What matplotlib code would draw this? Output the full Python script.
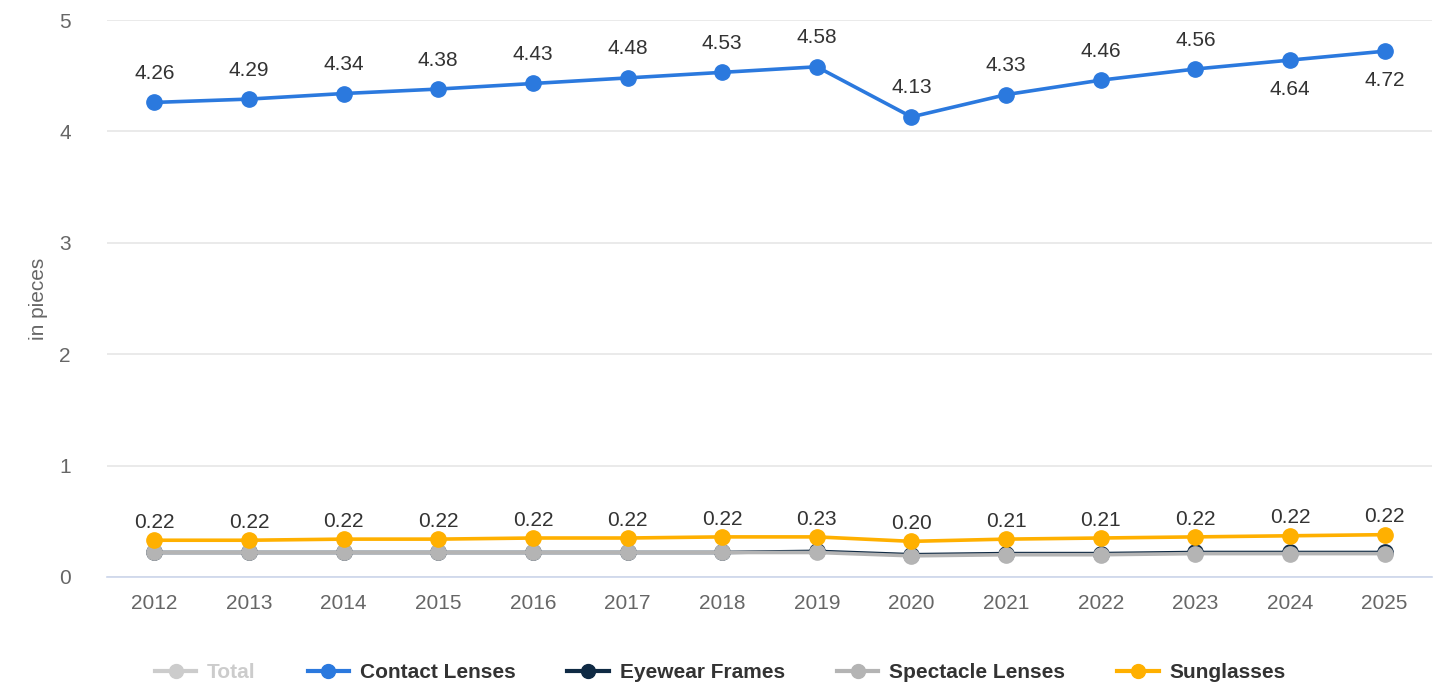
import matplotlib
matplotlib.use("Agg")
import matplotlib.pyplot as plt
from matplotlib.lines import Line2D

plt.rcParams['font.family'] = ['Liberation Sans', 'DejaVu Sans']

years = ['2012', '2013', '2014', '2015', '2016', '2017', '2018', '2019',
         '2020', '2021', '2022', '2023', '2024', '2025']
contact_lenses = [4.26, 4.29, 4.34, 4.38, 4.43, 4.48, 4.53, 4.58, 4.13, 4.33, 4.46, 4.56, 4.64, 4.72]
eyewear_frames = [0.22, 0.22, 0.22, 0.22, 0.22, 0.22, 0.22, 0.23, 0.20, 0.21, 0.21, 0.22, 0.22, 0.22]
spectacle_lenses = [0.22, 0.22, 0.22, 0.22, 0.22, 0.22, 0.22, 0.22, 0.19, 0.20, 0.20, 0.21, 0.21, 0.21]
sunglasses = [0.33, 0.33, 0.34, 0.34, 0.35, 0.35, 0.36, 0.36, 0.32, 0.34, 0.35, 0.36, 0.37, 0.38]
# label placement for contact lens values: above (1) or below (-1)
contact_label_side = [1, 1, 1, 1, 1, 1, 1, 1, 1, 1, 1, 1, -1, -1]

c_total = '#cccccc'
c_contact = '#2b79de'
c_frames = '#0f2a44'
c_spect = '#b4b4b4'
c_sun = '#ffb000'

fig = plt.figure(figsize=(14.38, 6.89), dpi=100)
ax = fig.add_axes([107/1438, 1-577/689, (1432-107)/1438, (577-20)/689])

x = list(range(len(years)))
lw = 2.6
ms = 11
ax.plot(x, eyewear_frames, color=c_frames, lw=lw, marker='o', ms=ms, zorder=3)
ax.plot(x, spectacle_lenses, color=c_spect, lw=lw, marker='o', ms=ms, zorder=4)
ax.plot(x, sunglasses, color=c_sun, lw=lw, marker='o', ms=ms, zorder=5)
ax.plot(x, contact_lenses, color=c_contact, lw=lw, marker='o', ms=ms, zorder=6)

for i, v in enumerate(contact_lenses):
    side = contact_label_side[i]
    ax.annotate(f'{v:.2f}', (i, v), xytext=(0, 14 * side), textcoords='offset points',
                ha='center', va='bottom' if side > 0 else 'top',
                fontsize=15, color='#333333', zorder=7)
for i, v in enumerate(eyewear_frames):
    ax.annotate(f'{v:.2f}', (i, sunglasses[i]), xytext=(0, 6), textcoords='offset points',
                ha='center', va='bottom', fontsize=15, color='#333333', zorder=7)

ax.set_xlim(-0.5, len(years) - 0.5)
ax.set_ylim(0, 5)
ax.set_yticks([0, 1, 2, 3, 4, 5])
ax.set_xticks(x)
ax.set_xticklabels(years)
ax.grid(axis='y', color='#e6e6e6', lw=1.2)
ax.set_axisbelow(True)
for s in ['top', 'right', 'left']:
    ax.spines[s].set_visible(False)
ax.spines['bottom'].set_color('#ccd6eb')
ax.spines['bottom'].set_linewidth(1.2)
ax.tick_params(axis='both', length=0, labelsize=15, colors='#666666')
ax.tick_params(axis='y', pad=26)
ax.tick_params(axis='x', pad=12)
ax.set_ylabel('in pieces', fontsize=15, color='#666666', labelpad=8)

handles = [
    Line2D([0], [0], color=c_total, lw=3, marker='o', ms=10),
    Line2D([0], [0], color=c_contact, lw=3, marker='o', ms=10),
    Line2D([0], [0], color=c_frames, lw=3, marker='o', ms=10),
    Line2D([0], [0], color=c_spect, lw=3, marker='o', ms=10),
    Line2D([0], [0], color=c_sun, lw=3, marker='o', ms=10),
]
labels = ['Total', 'Contact Lenses', 'Eyewear Frames', 'Spectacle Lenses', 'Sunglasses']
leg = fig.legend(handles, labels, loc='center', bbox_to_anchor=(720/1438, 1-673/689),
                 ncol=5, frameon=False, handlelength=2.0, columnspacing=2.5,
                 handletextpad=0.5, prop={'weight': 'bold', 'size': 15})
for t, lab in zip(leg.get_texts(), labels):
    t.set_color('#cccccc' if lab == 'Total' else '#333333')

fig.savefig('out.png', dpi=100)
